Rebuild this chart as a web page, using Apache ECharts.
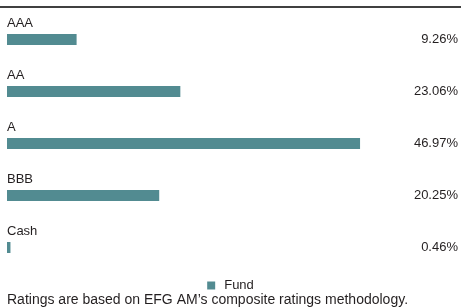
<!DOCTYPE html>
<html>
<head>
    <meta charset="utf-8">
    <title>Ratings</title>
    <script src="https://cdn.jsdelivr.net/npm/echarts@6/dist/echarts.min.js"></script>
    <style>
        html, body { margin: 0; padding: 0; background: #fff; }
    </style>
</head>
<body>
    <div id="main" style="width: 461px;height:307px;"></div>
    <script>
        // ratings breakdown
        var ratings = ['AAA', 'AA', 'A', 'BBB', 'Cash'];
        var fundValues = [9.26, 23.06, 46.97, 20.25, 0.46];
        var seriesName = 'Fund';
        var footnote = 'Ratings are based on EFG AM\u2019s composite ratings methodology.';

        var textColor = '#231f20';
        var barColor = '#528b91';
        var font = 'Liberation Sans, Arial, sans-serif';

        var myChart = echarts.init(document.getElementById('main'));

        var option = {
            backgroundColor: '#fff',
            animation: false,
            textStyle: { fontFamily: font },
            grid: {
                left: 7,
                right: 2,
                top: 13.5,
                height: 260,
                containLabel: false
            },
            legend: {
                data: [seriesName],
                top: 274,
                left: 'center',
                itemWidth: 8,
                itemHeight: 8,
                icon: 'rect',
                textStyle: { color: textColor, fontSize: 13, fontFamily: font, padding: [0, 0, 0, 4] }
            },
            xAxis: {
                type: 'value',
                min: 0,
                max: 60,
                show: false
            },
            yAxis: [{
                type: 'category',
                inverse: true,
                data: ratings,
                axisLine: { show: false },
                axisTick: { show: false },
                axisLabel: { show: false },
                splitLine: { show: false }
            }, {
                type: 'category',
                inverse: true,
                position: 'right',
                data: fundValues.map(function (v) { return v.toFixed(2) + '%'; }),
                axisLine: { show: false },
                axisTick: { show: false },
                splitLine: { show: false },
                axisLabel: {
                    inside: true,
                    margin: 0,
                    color: textColor,
                    fontSize: 13,
                    fontFamily: font
                }
            }],
            series: [{
                name: seriesName,
                type: 'bar',
                yAxisIndex: 0,
                barWidth: 11,
                data: fundValues,
                itemStyle: { color: barColor },
                label: {
                    show: true,
                    position: [0, -17],
                    formatter: function (p) { return p.name; },
                    color: textColor,
                    fontSize: 13,
                    fontFamily: font
                }
            }],
            graphic: [{
                type: 'line',
                shape: { x1: 0, y1: 7, x2: 461, y2: 7 },
                style: { stroke: '#000', lineWidth: 1.5 }
            }, {
                type: 'text',
                left: 7,
                top: 293,
                style: {
                    text: footnote,
                    fill: textColor,
                    fontSize: 14,
                    fontFamily: font
                }
            }]
        };
        myChart.setOption(option);
    </script>
</body>
</html>
